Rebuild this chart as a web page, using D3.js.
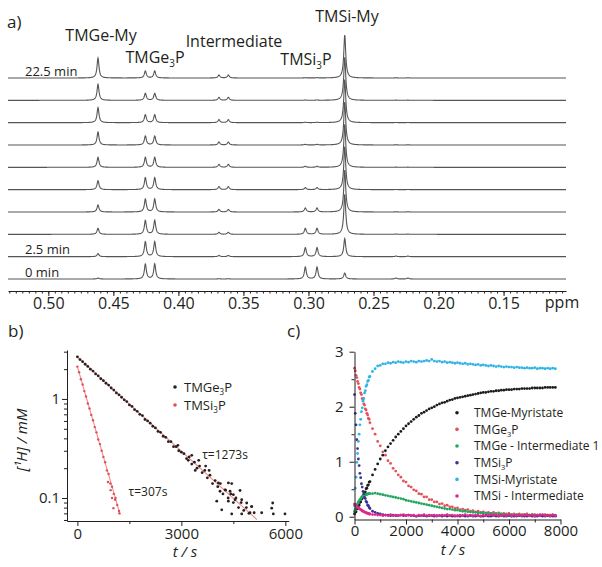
<!DOCTYPE html>
<html>
<head>
<meta charset="utf-8">
<script src="https://cdn.jsdelivr.net/npm/d3@7"></script>
<style>
  body { margin: 0; background: #fff; }
  svg { display: block; }
  text { font-family: "Open Sans", sans-serif; fill: #231f20; }
</style>
</head>
<body>
<svg id="fig" width="602" height="567"></svg>
<script>
// ---------- panel a: stacked 1H spectra ----------
const traceTimes = [0, 2.5, 5, 7.5, 10, 12.5, 15, 17.5, 20, 22.5];   // min
const traceLabelTimes = [0, 2.5, 22.5];
const ppmTicks = [0.50, 0.45, 0.40, 0.35, 0.30, 0.25, 0.20, 0.15];

// peak positions (ppm) and heights per trace (a.u.)
const peakGeMy = [0.4618];
const peakGeP = [0.4254, 0.4182];
const peakInt = [0.3688, 0.3616];
const peakSiP = [0.3024, 0.2934];
const peakSiMy = [0.2721];
const peakMinor = [0.2327, 0.2235];
const hGeMy = [1, 3, 6, 7, 9, 10, 13, 15, 16, 20];
const hGeP = [15, 15, 14, 13, 12, 10, 9, 8, 7, 7];
const hInt = [0.3, 1.2, 2, 2.5, 3, 3, 3, 3, 3, 3];
const hSiP = [12, 9, 6, 4, 2, 1, 0.6, 0.4, 0.3, 0.3];
const hSiMy = [6, 18, 40, 42, 43, 43, 43, 43, 43, 43];
const hMinor = [1, 0.6, 0.3, 0.2, 0.2, 0.2, 0.2, 0.2, 0.2, 0.2];

// ---------- panel b: log decay ----------
const geT = [0,75,150,225,300,375,450,525,600,675,750,825,900,975,1050,1125,1200,1275,1350,1425,1500,1575,1650,1725,1800,1875,1950,2025,2100,2175,2250,2325,2400,2475,2550,2625,2700,2775,2850,2925,3000,3075,3150,3225,3300,3375,3450,3525,3600,3675,3750,3825,3900,3975,4050,4125,4200,4275,4350,4425,4500,4575,4650,4725,4800,4875,4950,5025,5100,
  4068,4357,4453,4116,4260,4404,4500,4693,4021,4356,4549,4741,4885,5030,4165,4453,4741,4981,5318,5607,5653,5990,5635,3700,3500,3300,3400,3800,3200,2900];
const geV = [2.66,2.50,2.38,2.24,2.13,2.00,1.91,1.79,1.71,1.60,1.53,1.44,1.38,1.29,1.23,1.15,1.10,1.04,0.98,0.94,0.87,0.84,0.78,0.75,0.70,0.68,0.62,0.60,0.57,0.53,0.51,0.47,0.46,0.42,0.41,0.37,0.37,0.33,0.33,0.30,0.29,0.28,0.25,0.26,0.22,0.23,0.20,0.21,0.18,0.19,0.16,0.17,0.14,0.15,0.13,0.14,0.11,0.12,0.10,0.11,0.09,0.10,0.08,0.09,0.075,0.08,0.07,0.082,0.071,
  0.142,0.142,0.14,0.117,0.121,0.117,0.108,0.119,0.093,0.093,0.096,0.096,0.089,0.082,0.076,0.069,0.069,0.071,0.071,0.079,0.069,0.069,0.089,0.21,0.24,0.27,0.19,0.19,0.24,0.34];
const siT = [0,50,100,150,200,250,300,350,400,450,500,550,600,650,700,750,800,850,900,950,1000,1050,1100,1150,1200, 1000,1040,1087,1211,960,880];
const siV = [2.12,1.86,1.58,1.40,1.20,1.06,0.90,0.80,0.69,0.61,0.52,0.46,0.39,0.35,0.30,0.26,0.23,0.19,0.175,0.14,0.13,0.11,0.10,0.085,0.074, 0.10,0.079,0.096,0.070,0.12,0.145];
const geFitT = [0, 5180], geFitV = [2.65, 0.0605];
const siFitT = [0, 1233], siFitV = [2.12, 0.068];

// ---------- panel c: concentration vs time ----------
const tC = [0,30,60,90,120,150,180,210,240,270,300,330,360,390,420,450,480,510,540,570,600,
  700,800,900,1000,1100,1200,1300,1400,1500,1600,1700,1800,1900,2000,2100,2200,2300,2400,2500,2600,2700,2800,2900,3000,3100,3200,3300,3400,3500,3600,3700,3800,3900,4000,4100,4200,4300,4400,4500,4600,4700,4800,4900,5000,5100,5200,5300,5400,5500,5600,5700,5800,5900,6000,6100,6200,6300,6400,6500,6600,6700,6800,6900,7000,7100,7200,7300,7400,7500,7600,7700,7800];
const cGeMy = [0.05,0.08,0.09,0.14,0.15,0.20,0.21,0.26,0.27,0.32,0.33,0.38,0.39,0.44,0.45,0.51,0.52,0.57,0.58,0.63,0.64,
  0.76,0.86,0.96,1.05,1.12,1.20,1.27,1.33,1.39,1.45,
  1.50,1.55,1.60,1.65,1.69,1.73,1.77,1.81,1.84,1.88,
  1.90,1.93,1.96,1.98,2.00,2.03,2.05,2.07,2.08,2.10,
  2.12,2.13,2.15,2.16,2.17,2.18,2.19,2.20,2.21,2.22,
  2.23,2.24,2.25,2.26,2.26,2.27,2.28,2.28,2.29,2.29,
  2.30,2.30,2.31,2.31,2.31,2.32,2.32,2.32,2.33,2.33,
  2.33,2.33,2.34,2.34,2.34,2.34,2.34,2.35,2.35,2.35,
  2.35,2.35];
const cGeP = [2.70,2.65,2.57,2.53,2.46,2.42,2.35,2.32,2.25,2.22,2.15,2.12,2.05,2.03,1.96,1.94,1.88,1.85,1.79,1.77,1.71,
  1.60,1.50,1.37,1.29,1.18,1.12,1.02,0.97,0.88,0.83,
  0.76,0.72,0.65,0.63,0.56,0.54,0.49,0.47,0.42,0.41,
  0.36,0.36,0.31,0.31,0.27,0.27,0.23,0.24,0.20,0.21,
  0.18,0.18,0.15,0.16,0.13,0.14,0.12,0.13,0.10,0.11,
  0.09,0.10,0.08,0.09,0.07,0.08,0.06,0.08,0.06,0.07,
  0.05,0.06,0.05,0.06,0.04,0.05,0.04,0.05,0.04,0.04,
  0.05,0.03,0.04,0.04,0.03,0.04,0.03,0.04,0.03,0.03,
  0.04,0.03];
const cGeInt = [0.10,0.14,0.18,0.21,0.24,0.27,0.29,0.31,0.33,0.35,0.36,0.37,0.38,0.39,0.40,0.40,0.41,0.41,0.42,0.42,0.42,
  0.42,0.43,0.42,0.41,0.40,0.39,0.38,0.37,0.36,0.35,
  0.34,0.33,0.32,0.30,0.29,0.28,0.27,0.26,0.25,0.24,
  0.23,0.22,0.21,0.20,0.19,0.18,0.17,0.16,0.15,0.14,
  0.14,0.13,0.12,0.12,0.11,0.10,0.10,0.09,0.09,0.08,
  0.08,0.07,0.07,0.07,0.06,0.06,0.06,0.05,0.05,0.05,
  0.05,0.04,0.04,0.04,0.04,0.03,0.04,0.03,0.03,0.04,
  0.03,0.03,0.04,0.03,0.03,0.02,0.03,0.03,0.02,0.03,
  0.03,0.02];
const cSiP = [2.22,1.88,1.67,1.40,1.24,1.05,0.93,0.79,0.71,0.60,0.54,0.46,0.42,0.35,0.33,0.28,0.26,0.21,0.20,0.17,0.15,
  0.10,0.08,0.06,0.05,0.04,0.03,0.03,0.02,0.03,0.02,
  0.02,0.03,0.02,0.02,0.03,0.02,0.02,0.01,0.02,0.02,
  0.02,0.01,0.02,0.02,0.01,0.02,0.02,0.01,0.02,0.01,
  0.02,0.01,0.01,0.02,0.01,0.02,0.01,0.01,0.02,0.01,
  0.01,0.02,0.01,0.01,0.02,0.01,0.01,0.02,0.01,0.01,
  0.02,0.01,0.01,0.02,0.01,0.01,0.01,0.02,0.01,0.01,
  0.01,0.02,0.01,0.01,0.01,0.02,0.01,0.01,0.02,0.01,
  0.01,0.01];
const cSiMy = [0.20,0.52,0.72,0.99,1.15,1.37,1.50,1.67,1.77,1.91,1.98,2.10,2.15,2.25,2.29,2.37,2.40,2.46,2.48,2.54,2.55,
  2.64,2.69,2.74,2.75,2.78,2.78,2.80,2.79,2.81,2.80,
  2.82,2.81,2.80,2.82,2.81,2.83,2.82,2.81,2.83,2.82,
  2.83,2.84,2.83,2.86,2.83,2.82,2.83,2.81,2.82,2.80,
  2.81,2.80,2.79,2.80,2.79,2.78,2.79,2.77,2.78,2.77,
  2.76,2.77,2.75,2.76,2.75,2.74,2.75,2.74,2.73,2.74,
  2.73,2.72,2.73,2.72,2.72,2.71,2.72,2.71,2.71,2.70,
  2.71,2.70,2.70,2.71,2.69,2.70,2.70,2.69,2.70,2.69,
  2.70,2.69];
const cSiInt = [0.23,0.22,0.20,0.19,0.17,0.16,0.15,0.14,0.13,0.12,0.11,0.10,0.09,0.09,0.08,0.07,0.07,0.06,0.06,0.05,0.05,
  0.04,0.04,0.03,0.03,0.02,0.03,0.02,0.04,0.02,0.03,
  0.02,0.03,0.04,0.02,0.03,0.02,0.03,0.01,0.03,0.02,
  0.04,0.02,0.03,0.02,0.03,0.01,0.02,0.03,0.02,0.04,
  0.02,0.03,0.02,0.01,0.03,0.02,0.04,0.02,0.03,0.02,
  0.03,0.02,0.01,0.03,0.02,0.03,0.04,0.02,0.03,0.02,
  0.02,0.03,0.02,0.04,0.01,0.03,0.02,0.03,0.02,0.03,
  0.03,0.02,0.03,0.01,0.03,0.02,0.04,0.02,0.03,0.02,
  0.03,0.02];

const ink = "#231f20";
const svg = d3.select("#fig");

function subText(g, x, y, parts, size, anchor) {
  const t = g.append("text").attr("x", x).attr("y", y)
    .attr("font-size", size).attr("text-anchor", anchor || "start");
  t.append("tspan").text(parts[0]);
  if (parts.length > 1) {
    t.append("tspan").text(parts[1]).attr("font-size", size * 0.62).attr("dy", size * 0.25);
    t.append("tspan").text(parts[2]).attr("dy", -size * 0.25);
  }
  return t;
}

function styleAxis(g, size) {
  g.attr("font-family", null).attr("font-size", null);
  g.selectAll("path, line").attr("stroke", ink).attr("stroke-width", 1);
  g.selectAll("text").attr("font-size", size).attr("fill", ink);
}

// ================= panel a =================
const gA = svg.append("g");
const xA = d3.scaleLinear().domain([0.531, 0.102]).range([8, 566]);
const yTrace = d3.scaleLinear().domain([0, 22.5]).range([279, 78]);
const yInt = d3.scaleLinear().domain([0, 50]).range([0, 50]);
const hw = 0.0009;

const peakSets = [
  { ppm: peakGeMy, h: hGeMy }, { ppm: peakGeP, h: hGeP }, { ppm: peakInt, h: hInt },
  { ppm: peakSiP, h: hSiP }, { ppm: peakSiMy, h: hSiMy }, { ppm: peakMinor, h: hMinor }
];
const grid = d3.range(8, 566.01, 0.25).map(px => xA.invert(px));

traceTimes.forEach((tm, i) => {
  const pts = grid.map(p => {
    let s = 0;
    peakSets.forEach(ps => ps.ppm.forEach(c => { s += ps.h[i] * hw * hw / ((p - c) * (p - c) + hw * hw); }));
    return [p, s];
  });
  const line = d3.line().x(d => xA(d[0])).y(d => yTrace(tm) - yInt(d[1]));
  gA.append("path").attr("d", line(pts)).attr("fill", "none")
    .attr("stroke", "#555").attr("stroke-width", 1.1);
});

traceLabelTimes.forEach(tm => {
  gA.append("text").attr("x", 25).attr("y", yTrace(tm) - 2.5).attr("font-size", 13)
    .text(tm + " min");
});

const axA = gA.append("g").attr("transform", "translate(0,291)")
  .call(d3.axisBottom(xA).tickValues(d3.range(0.105, 0.5301, 0.005)).tickSize(2.5).tickSizeOuter(0).tickFormat(""));
styleAxis(axA, 16);
const axA2 = gA.append("g").attr("transform", "translate(0,291)")
  .call(d3.axisBottom(xA).tickValues(ppmTicks).tickSize(5).tickPadding(2).tickFormat(d3.format(".2f")));
styleAxis(axA2, 16);
axA2.select(".domain").remove();
gA.append("text").attr("x", 562).attr("y", 307.5).attr("font-size", 16).attr("text-anchor", "middle").text("ppm");

gA.append("text").attr("x", 7).attr("y", 28).attr("font-size", 17).text("a)");
subText(gA, 101, 41, ["TMGe-My"], 16, "middle");
subText(gA, 155, 63, ["TMGe", "3", "P"], 16, "middle");
subText(gA, 234, 47, ["Intermediate"], 16, "middle");
subText(gA, 306, 65, ["TMSi", "3", "P"], 16, "middle");
subText(gA, 347, 22, ["TMSi-My"], 16, "middle");

// ================= panel b =================
const gB = svg.append("g");
const xB = d3.scaleLinear().domain([-300, 6100]).range([67, 288.8]);
const yB = d3.scaleLog().domain([0.0586, 3.12]).range([521, 350]);

const fitLine = d3.line().x(d => xB(d[0])).y(d => yB(d[1]));
[[geFitT, geFitV], [siFitT, siFitV]].forEach(([t, v]) => {
  gB.append("path").attr("d", fitLine(d3.zip(t, v))).attr("fill", "none")
    .attr("stroke", "#ef8c8c").attr("stroke-width", 1.1);
});
gB.append("g").selectAll("circle").data(d3.zip(siT, siV)).join("circle")
  .attr("cx", d => xB(d[0])).attr("cy", d => yB(d[1])).attr("r", 1.2).attr("fill", "#e04f55");
gB.append("g").selectAll("circle").data(d3.zip(geT, geV)).join("circle")
  .attr("cx", d => xB(d[0])).attr("cy", d => yB(d[1])).attr("r", 1.4).attr("fill", "#2a1e1f");

const minorLog = [0.06, 0.07, 0.08, 0.09, 0.2, 0.3, 0.4, 0.5, 0.6, 0.7, 0.8, 0.9, 2, 3];
const ayB = gB.append("g").attr("transform", "translate(67,0)")
  .call(d3.axisLeft(yB).tickValues(minorLog).tickSize(3).tickSizeOuter(0).tickFormat(""));
styleAxis(ayB, 15);
const ayB2 = gB.append("g").attr("transform", "translate(67,0)")
  .call(d3.axisLeft(yB).tickValues([0.1, 1]).tickSize(5).tickPadding(2).tickFormat(d => d));
styleAxis(ayB2, 15);
ayB2.select(".domain").remove();
const axB = gB.append("g").attr("transform", "translate(0,521)")
  .call(d3.axisBottom(xB).tickValues([1500, 4500]).tickSize(3).tickSizeOuter(0).tickFormat(""));
styleAxis(axB, 15);
const axB2 = gB.append("g").attr("transform", "translate(0,521)")
  .call(d3.axisBottom(xB).tickValues([0, 3000, 6000]).tickSize(5).tickPadding(2).tickFormat(d => d));
styleAxis(axB2, 15);
axB2.select(".domain").remove();

gB.append("text").attr("x", 8).attr("y", 337).attr("font-size", 17).text("b)");
gB.append("text").attr("transform", "translate(27,440) rotate(-90)").attr("text-anchor", "middle")
  .attr("font-size", 15).attr("font-style", "italic").text("[¹H] / mM");
gB.append("text").attr("x", 185).attr("y", 557).attr("text-anchor", "middle")
  .attr("font-size", 15).attr("font-style", "italic").text("t / s");
gB.append("text").attr("x", 225).attr("y", 459).attr("text-anchor", "middle").attr("font-size", 12).text("τ=1273s");
gB.append("text").attr("x", 148).attr("y", 496).attr("text-anchor", "middle").attr("font-size", 12).text("τ=307s");

const legB = [{ parts: ["TMGe", "3", "P"], color: "#2a1e1f" }, { parts: ["TMSi", "3", "P"], color: "#e04f55" }];
legB.forEach((d, i) => {
  const y = 387 + i * 18;
  gB.append("circle").attr("cx", 175).attr("cy", y).attr("r", 1.8).attr("fill", d.color);
  subText(gB, 184, y + 4.5, d.parts, 13);
});

// ================= panel c =================
const gC = svg.append("g");
const xC = d3.scaleLinear().domain([0, 8000]).range([354.5, 560.5]);
const yC = d3.scaleLinear().domain([-0.05, 3]).range([519.5, 351.7]);

const seriesC = [
  { parts: ["TMGe-Myristate"], v: cGeMy, color: "#1c1c1c" },
  { parts: ["TMGe", "3", "P"], v: cGeP, color: "#e4505a" },
  { parts: ["TMGe - Intermediate 1"], v: cGeInt, color: "#23a760" },
  { parts: ["TMSi", "3", "P"], v: cSiP, color: "#3c3491" },
  { parts: ["TMSi-Myristate"], v: cSiMy, color: "#30b4e6" },
  { parts: ["TMSi - Intermediate"], v: cSiInt, color: "#e2268a" }
];

seriesC.forEach(s => {
  gC.append("g").selectAll("circle").data(d3.zip(tC, s.v)).join("circle")
    .attr("cx", d => xC(d[0])).attr("cy", d => yC(d[1])).attr("r", 1.4).attr("fill", s.color);
});

const ayC = gC.append("g").attr("transform", "translate(354.5,0)")
  .call(d3.axisLeft(yC).tickValues([0.5, 1.5, 2.5]).tickSize(3).tickSizeOuter(0).tickFormat(""));
styleAxis(ayC, 15);
const ayC2 = gC.append("g").attr("transform", "translate(354.5,0)")
  .call(d3.axisLeft(yC).tickValues([0, 1, 2, 3]).tickSize(5).tickPadding(6).tickFormat(d => d));
styleAxis(ayC2, 15);
ayC2.select(".domain").remove();
const axC = gC.append("g").attr("transform", "translate(0,519.5)")
  .call(d3.axisBottom(xC).tickValues([1000, 3000, 5000, 7000]).tickSize(3).tickSizeOuter(0).tickFormat(""));
styleAxis(axC, 15);
const axC2 = gC.append("g").attr("transform", "translate(0,519.5)")
  .call(d3.axisBottom(xC).tickValues([0, 2000, 4000, 6000, 8000]).tickSize(5).tickPadding(1).tickFormat(d => d));
styleAxis(axC2, 15);
axC2.select(".domain").remove();

gC.append("text").attr("x", 287).attr("y", 337).attr("font-size", 17).text("c)");
gC.append("text").attr("x", 453).attr("y", 555).attr("text-anchor", "middle")
  .attr("font-size", 15).attr("font-style", "italic").text("t / s");

seriesC.forEach((s, i) => {
  const y = 412.7 + i * 16.67;
  gC.append("circle").attr("cx", 457).attr("cy", y).attr("r", 1.8).attr("fill", s.color);
  subText(gC, 474, y + 4.3, s.parts, 12);
});
</script>
</body>
</html>
